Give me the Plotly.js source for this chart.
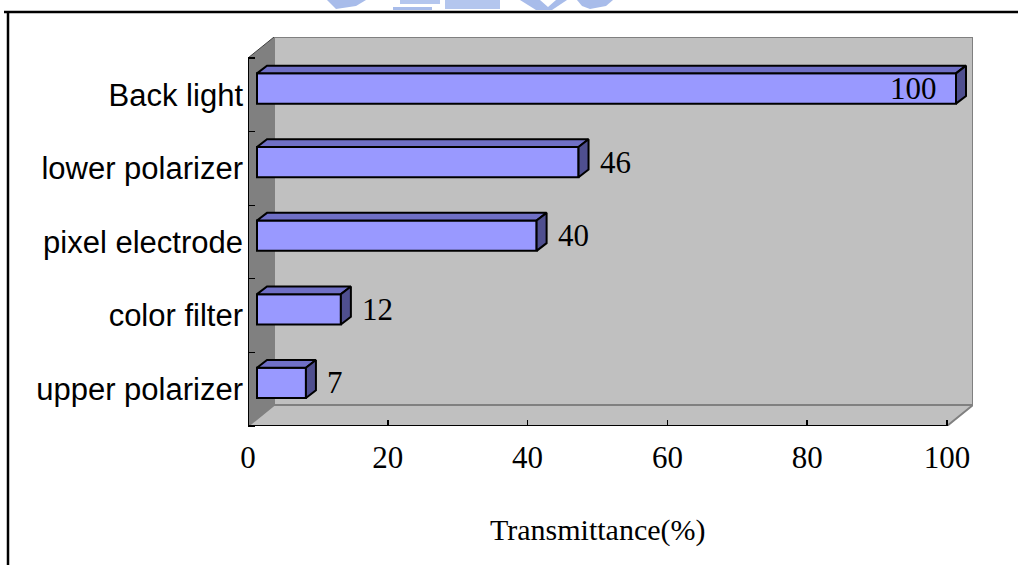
<!DOCTYPE html>
<html>
<head>
<meta charset="utf-8">
<script src="https://cdn.plot.ly/plotly-3.0.1.min.js"></script>
<style>html,body{margin:0;padding:0;background:#fff;}#chart{width:1018px;height:565px;}</style>
</head>
<body>
<div id="chart"></div>
<script>
// ---- data ----
const categories = ['upper polarizer', 'color filter', 'pixel electrode', 'lower polarizer', 'Back light'];
const values = [7, 12, 40, 46, 100];
const xTickVals = [0, 20, 40, 60, 80, 100];
const xTitle = 'Transmittance(%)';

// ---- layout geometry (pixels) ----
const W = 1018, H = 565;
const M = {l: 248, r: 45, t: 37, b: 139};
const plotW = W - M.l - M.r, plotH = H - M.t - M.b;
const wallDX = 26, wallDY = 21;          // depth of the 3D box
const barFDX = 9, barFDY = 6.3;          // bar front face depth offset
const barBDX = 19, barBDY = 14;          // bar back face depth offset
const barPx = 30.3;                      // bar thickness

const kx = (plotW - wallDX) / 100;                 // px per x unit
const XMAX = plotW / kx;
const nCat = categories.length;
const ky = (plotH - wallDY) / nCat;                // px per category
const YMIN = -0.5, YMAX = -0.5 + plotH / ky;
const dX = wallDX / kx, dY = wallDY / ky;
const fdx = barFDX / kx, fdy = barFDY / ky, bdx = barBDX / kx, bdy = barBDY / ky;
const bw = barPx / ky;

const PX = p => (p - M.l) / plotW;
const PY = p => (H - M.b - p) / plotH;

const pos = categories.map((c, i) => i);

// front faces: bar trace
const front = {
  type: 'bar', orientation: 'h',
  y: pos, x: values, base: fdx,
  width: bw, offset: -bw / 2 + fdy,
  marker: {color: '#9999FF', line: {color: '#000', width: 2}},
  hoverinfo: 'skip', showlegend: false
};

// top and side faces computed from values
const topX = [], topY = [], sideX = [], sideY = [];
values.forEach((v, i) => {
  const yfT = pos[i] + fdy + bw / 2, yfB = pos[i] + fdy - bw / 2;
  const ybT = pos[i] + bdy + bw / 2, ybB = pos[i] + bdy - bw / 2;
  const x0f = fdx, x1f = v + fdx, x0b = bdx, x1b = v + bdx;
  topX.push(x0f, x1f, x1b, x0b, x0f, null);
  topY.push(yfT, yfT, ybT, ybT, yfT, null);
  sideX.push(x1f, x1f, x1b, x1b, x1f, null);
  sideY.push(yfB, yfT, ybT, ybB, yfB, null);
});
const topFace = {type: 'scatter', mode: 'lines', x: topX, y: topY, fill: 'toself',
  fillcolor: '#6F6FC6', line: {color: '#000', width: 2}, hoverinfo: 'skip', showlegend: false};
const sideFace = {type: 'scatter', mode: 'lines', x: sideX, y: sideY, fill: 'toself',
  fillcolor: '#4F4F8F', line: {color: '#000', width: 2}, hoverinfo: 'skip', showlegend: false};

const serif = '"Liberation Serif", "Times New Roman", serif';
const sans = '"Liberation Sans", Arial, sans-serif';

// data labels
const labelAnn = values.map((v, i) => {
  const inside = v >= 90;
  return {
    x: v, y: pos[i], xref: 'x', yref: 'y', text: String(v), showarrow: false,
    xanchor: inside ? 'right' : 'left', yanchor: 'middle',
    xshift: inside ? -8 : 28, yshift: barFDY,
    font: {family: serif, size: 31, color: '#000'}
  };
});

const shapes = [
  // back wall
  {type: 'rect', xref: 'x', yref: 'y', x0: dX, x1: 100 + dX, y0: YMIN + dY, y1: YMIN + nCat + dY,
   fillcolor: '#C0C0C0', line: {color: '#808080', width: 2}, layer: 'below'},
  // left wall
  {type: 'path', xref: 'x', yref: 'y',
   path: `M0,${YMIN} L0,${YMIN + nCat} L${dX},${YMIN + nCat + dY} L${dX},${YMIN + dY} Z`,
   fillcolor: '#808080', line: {width: 0}, layer: 'below'},
  // floor
  {type: 'path', xref: 'x', yref: 'y',
   path: `M0,${YMIN} L100,${YMIN} L${100 + dX},${YMIN + dY} L${dX},${YMIN + dY} Z`,
   fillcolor: '#C0C0C0', line: {color: '#808080', width: 2}, layer: 'below'},
  // left wall top edge
  {type: 'line', xref: 'x', yref: 'y', x0: 0, y0: YMIN + nCat, x1: dX, y1: YMIN + nCat + dY,
   line: {color: '#404040', width: 1}, layer: 'below'},
  // front axis lines
  {type: 'line', xref: 'x', yref: 'y', x0: 0, y0: YMIN, x1: 0, y1: YMIN + nCat,
   line: {color: '#000', width: 2}, layer: 'below'},
  {type: 'line', xref: 'x', yref: 'y', x0: 0, y0: YMIN, x1: 100, y1: YMIN,
   line: {color: '#000', width: 2}, layer: 'below'},
  // outer frame
  {type: 'line', xref: 'paper', yref: 'paper', x0: PX(4), y0: PY(12), x1: PX(1018), y1: PY(12),
   line: {color: '#000', width: 2.5}},
  {type: 'line', xref: 'paper', yref: 'paper', x0: PX(8), y0: PY(12), x1: PX(8), y1: PY(566),
   line: {color: '#000', width: 2.5}},
  // watermark fragment at the top
  {type: 'path', xref: 'paper', yref: 'paper',
   path: `M${PX(327)},${PY(0)} L${PX(366)},${PY(0)} L${PX(356)},${PY(6)} L${PX(336)},${PY(9)} Z`,
   fillcolor: '#A8BCEA', line: {width: 0}},
  {type: 'rect', xref: 'paper', yref: 'paper', x0: PX(393), x1: PX(432), y0: PY(7), y1: PY(10),
   fillcolor: '#A8BCEA', line: {width: 0}},
  {type: 'rect', xref: 'paper', yref: 'paper', x0: PX(400), x1: PX(440), y0: PY(0), y1: PY(4),
   fillcolor: '#B4C6EE', line: {width: 0}},
  {type: 'rect', xref: 'paper', yref: 'paper', x0: PX(445), x1: PX(500), y0: PY(0), y1: PY(9),
   fillcolor: '#B4C6EE', line: {width: 0}},
  {type: 'path', xref: 'paper', yref: 'paper',
   path: `M${PX(520)},${PY(0)} L${PX(540)},${PY(0)} L${PX(548)},${PY(7)} L${PX(556)},${PY(0)} L${PX(567)},${PY(0)} L${PX(552)},${PY(10)} L${PX(536)},${PY(10)} Z`,
   fillcolor: '#A8BCEA', line: {width: 0}},
  {type: 'path', xref: 'paper', yref: 'paper',
   path: `M${PX(577)},${PY(0)} L${PX(613)},${PY(0)} L${PX(606)},${PY(6)} L${PX(590)},${PY(9)} L${PX(582)},${PY(6)} Z`,
   fillcolor: '#A8BCEA', line: {width: 0}}
];

const annotations = labelAnn.concat([{
  x: 50, xref: 'x', y: PY(530), yref: 'paper', text: xTitle, showarrow: false,
  xanchor: 'center', yanchor: 'middle', font: {family: serif, size: 30, color: '#000'}
}]);

const layout = {
  width: W, height: H, margin: M,
  paper_bgcolor: '#fff', plot_bgcolor: '#fff',
  showlegend: false, barmode: 'overlay',
  xaxis: {
    range: [0, XMAX], tickmode: 'array', tickvals: xTickVals, ticktext: xTickVals.map(String),
    ticks: 'inside', ticklen: 6, tickwidth: 1.5, tickcolor: '#000',
    showline: false, showgrid: false, zeroline: false, ticklabelstandoff: 10,
    tickfont: {family: serif, size: 31, color: '#000'}, fixedrange: true
  },
  yaxis: {
    range: [YMIN, YMAX], tickmode: 'array', tickvals: pos, ticktext: categories,
    ticks: '', showline: false, showgrid: false, zeroline: false, ticklabelstandoff: 4,
    minor: {tickmode: 'linear', tick0: -0.5, dtick: 1, ticks: 'inside', ticklen: 7, tickwidth: 1.2, tickcolor: '#000', showgrid: false},
    tickfont: {family: sans, size: 31, color: '#000'}, fixedrange: true
  },
  shapes: shapes,
  annotations: annotations
};

Plotly.newPlot('chart', [front, topFace, sideFace], layout, {displayModeBar: false, staticPlot: true});
</script>
</body>
</html>
